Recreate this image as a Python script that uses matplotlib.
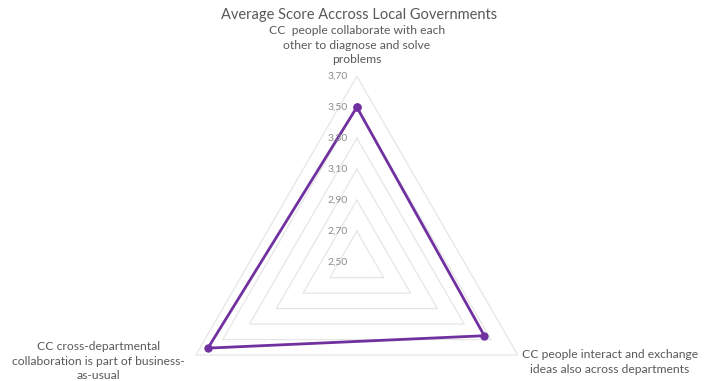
"""
Radar chart: average score across local governments.
"""

import matplotlib.pyplot as plt
import numpy as np

plt.rcParams['font.family'] = ['Lato', 'DejaVu Sans']

categories = [
    "CC  people collaborate with each\nother to diagnose and solve\nproblems",
    "CC people interact and exchange\nideas also across departments",
    "CC cross-departmental\ncollaboration is part of business-\nas-usual",
]
scores = [3.50, 3.45, 3.61]
ticks = [2.50, 2.70, 2.90, 3.10, 3.30, 3.50, 3.70]
tick_labels = ["2,50", "2,70", "2,90", "3,10", "3,30", "3,50", "3,70"]

label_offsets = [(0, 11), (92, -7), (-97, -6)]
label_va = ["bottom", "center", "center"]

# clockwise from the top
angles = np.pi / 2 - np.arange(len(categories)) * 2 * np.pi / len(categories)
closed = np.append(angles, angles[0])

fig = plt.figure(figsize=(7.18, 3.81), dpi=100)
ax = fig.add_axes([0.238, -0.176, 0.518, 0.976], projection="polar")
ax.set_ylim(ticks[0], ticks[-1])
ax.grid(False)
ax.spines["polar"].set_visible(False)
ax.set_xticks([])
ax.set_yticks([])
ax.patch.set_alpha(0)

# triangular gridlines
for t in ticks[1:]:
    ax.plot(closed, [t] * len(closed), color="#e6e6e6", lw=0.9, zorder=1)

# series
ax.plot(closed, np.append(scores, scores[0]), color="#7030A0", lw=2,
        marker="o", markersize=5, zorder=3, clip_on=False)

# radial tick labels along the top axis
for t, lab in zip(ticks, tick_labels):
    ax.annotate(lab, xy=(np.pi / 2, t), xytext=(-9, 0), textcoords="offset pixels",
                ha="right", va="center", fontsize=7.5, color="#8c8c8c")

# category labels
for a, lab, off, va in zip(angles, categories, label_offsets, label_va):
    ax.annotate(lab, xy=(a, ticks[-1]), xytext=off, textcoords="offset pixels",
                ha="center", va=va, fontsize=8.7, color="#595959",
                linespacing=1.4, annotation_clip=False)

fig.text(0.5, 0.96, "Average Score Accross Local Governments",
         ha="center", va="center", fontsize=10.5, color="#595959")

fig.savefig("out.png", dpi=100)
